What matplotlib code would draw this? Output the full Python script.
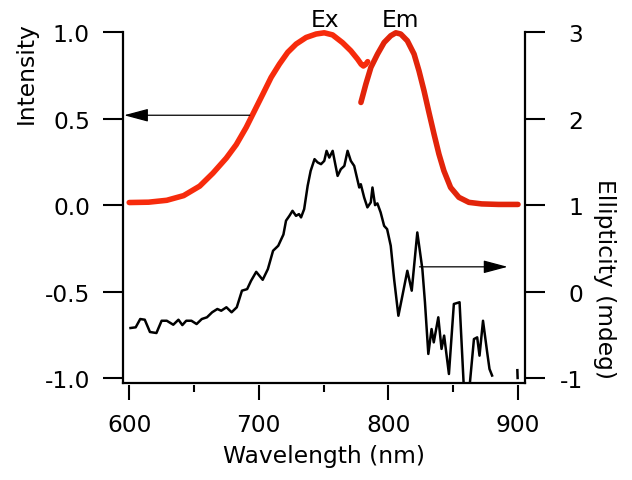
import matplotlib
matplotlib.use('Agg')
import matplotlib.pyplot as plt

plt.rcParams['font.family'] = ['DejaVu Sans']
plt.rcParams['axes.unicode_minus'] = False

# ---------------- data ----------------
ex_wl = [600, 615, 629, 642, 654.4, 664.6, 674.9, 682.6, 690.3, 696.7, 703.1,
         709.5, 715.9, 722.3, 728.8, 736.5, 744.2, 750.5, 756.9, 764.6, 771,
         776.2, 779, 780.7, 782.6, 784]
ex_int = [0.015, 0.017, 0.028, 0.055, 0.11, 0.185, 0.272, 0.35, 0.45, 0.546,
          0.642, 0.739, 0.816, 0.884, 0.932, 0.970, 0.99, 0.997, 0.985, 0.94,
          0.893, 0.845, 0.815, 0.805, 0.815, 0.83]

em_wl = [778.8, 782.6, 786.5, 791.6, 796.7, 801.8, 805.7, 809.5, 814.6, 819.8,
         823.6, 827.5, 831.3, 835.2, 839, 842.8, 848, 854.4, 862.1, 872, 885,
         900]
em_int = [0.594, 0.70, 0.797, 0.874, 0.941, 0.98, 0.997, 0.99, 0.951, 0.874,
          0.777, 0.661, 0.536, 0.411, 0.295, 0.199, 0.102, 0.045, 0.016, 0.007,
          0.004, 0.004]

cd_wl = [601, 605, 608.5, 612, 616, 621, 625, 629, 634, 638, 641, 644, 648, 652,
         656, 660, 664, 668, 671, 675, 679, 683, 687, 691, 694, 698, 703, 707,
         711, 715, 719, 721, 723.6, 726, 728.7, 731, 732.6, 735, 737.7, 740,
         743, 745.4, 748, 750.5, 752.3, 754.4, 757, 759, 760.8, 763.3, 766,
         768.5, 771, 773.6, 776, 777.5, 778.7, 781.3, 783.8, 786.4, 787.7,
         789.7, 791.5, 794, 796.7, 799, 801.8, 804.4, 807.7, 810.8, 814.6, 818,
         822.3, 826.2, 828.2, 830.8, 833.3, 835, 838.5, 841, 843, 846.7, 850.5,
         854.9, 858.5, 862, 866, 868.5, 870.3, 873, 876.2, 878, 880]
cd_mdeg = [-0.422, -0.414, -0.318, -0.326, -0.468, -0.48, -0.338, -0.338,
           -0.384, -0.326, -0.388, -0.338, -0.338, -0.376, -0.318, -0.298,
           -0.24, -0.202, -0.222, -0.182, -0.24, -0.182, 0.01, 0.028, 0.124,
           0.228, 0.136, 0.26, 0.472, 0.53, 0.66, 0.82, 0.876, 0.934, 0.876,
           0.896, 0.858, 0.954, 1.224, 1.396, 1.532, 1.494, 1.474, 1.512, 1.628,
           1.55, 1.628, 1.474, 1.338, 1.416, 1.454, 1.628, 1.512, 1.454, 1.30,
           1.204, 1.242, 1.088, 0.974, 1.032, 1.204, 1.0, 1.02, 0.916, 0.76,
           0.722, 0.53, 0.144, -0.28, -0.048, 0.24, 0.01, 0.684, 0.26, -0.124,
           -0.722, -0.434, -0.588, -0.298, -0.664, -0.51, -0.954, -0.144,
           -0.124, -1.2, -1.2, -0.55, -0.53, -0.742, -0.338, -0.702, -0.896,
           -0.972]
cd_tail_wl = [899.5, 899.7]
cd_tail_mdeg = [-0.91, -1.0]

x_major = [600, 700, 800, 900]
x_minor = [650, 750, 850]
y_left_ticks = [-1.0, -0.5, 0.0, 0.5, 1.0]
y_left_labels = ['-1.0', '-0.5', '0.0', '0.5', '1.0']
y_right_ticks = [-1, 0, 1, 2, 3]
y_right_labels = ['-1', '0', '1', '2', '3']

RED_EX = '#f72b0c'
RED_EM = '#e2240a'
FS = 16.8

# ---------------- figure ----------------
fig = plt.figure(figsize=(6.32, 4.81), dpi=100)
ax = fig.add_axes([0.1946, 0.201, 0.6361, 0.7298])
ax2 = ax.twinx()

ax.plot(ex_wl, ex_int, color=RED_EX, lw=4.0, clip_on=False,
        solid_capstyle='round', solid_joinstyle='round', zorder=3)
ax.plot(em_wl, em_int, color=RED_EM, lw=4.0, clip_on=False,
        solid_capstyle='round', solid_joinstyle='round', zorder=3)
ax2.plot(cd_wl, cd_mdeg, color='k', lw=1.8, solid_joinstyle='round')
ax2.plot(cd_tail_wl, cd_tail_mdeg, color='k', lw=1.8)

ax.set_xlim(595.2, 905.4)
ax.set_ylim(-1.031, 1.0)
ax2.set_ylim(-1.062, 3.0)

ax.set_xticks(x_major)
ax.set_xticks(x_minor, minor=True)
ax.set_yticks(y_left_ticks)
ax.set_yticklabels(y_left_labels)
ax2.set_yticks(y_right_ticks)
ax2.set_yticklabels(y_right_labels)

for a in (ax, ax2):
    a.spines['top'].set_visible(False)
    for s in a.spines.values():
        s.set_linewidth(1.6)
ax.spines['right'].set_visible(False)
ax2.spines['left'].set_visible(False)
ax2.spines['bottom'].set_visible(False)
ax.spines['bottom'].set_position(('outward', 1.5))
ax.spines['bottom'].set_visible(False)
ax.plot([0, 1], [0, 0], transform=ax.transAxes, color='k', lw=1.6,
        clip_on=False, solid_capstyle='projecting')

ax.tick_params(axis='x', which='major', direction='out', length=10.8,
               width=1.5, labelsize=FS, pad=9)
ax.tick_params(axis='x', which='minor', direction='out', length=5,
               width=1.5)
ax.tick_params(axis='y', direction='out', length=14.4, width=1.5,
               labelsize=FS, pad=9.4)
ax2.tick_params(axis='y', direction='out', length=14.4, width=1.5,
                labelsize=FS, pad=27.4)
plt.setp(ax2.get_yticklabels(), ha='right')

ax.set_xlabel('Wavelength (nm)', fontsize=FS)
ax.xaxis.set_label_coords(0.5, -0.173)
ax.set_ylabel('Intensity', fontsize=FS)
ax.yaxis.set_label_coords(-0.213, 0.888)
ax2.set_ylabel('Ellipticity (mdeg)', fontsize=FS, rotation=270)
ax2.yaxis.label.set_va('bottom')
ax2.yaxis.set_label_coords(1.168, 0.301)

ax.text(751, 1.035, 'Ex', ha='center', va='baseline', fontsize=FS)
ax.text(809.6, 1.035, 'Em', ha='center', va='baseline', fontsize=FS)

arrow_style = dict(arrowstyle='-|>,head_length=0.75,head_width=0.2',
                   mutation_scale=20, lw=0.9, color='k', shrinkA=0, shrinkB=0)
ax.annotate('', xy=(596, 0.52), xytext=(693, 0.52), arrowprops=arrow_style)
ax.annotate('', xy=(892, -0.357), xytext=(824, -0.357), arrowprops=arrow_style)

fig.savefig('out.png', dpi=100)
